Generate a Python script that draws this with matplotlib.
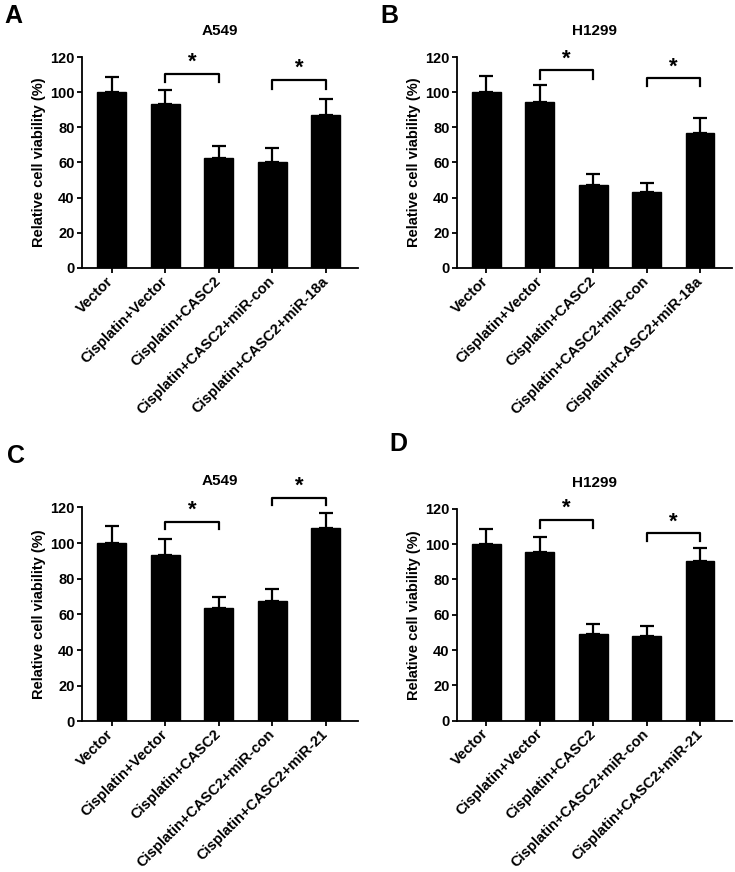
import matplotlib
matplotlib.use('Agg')
import matplotlib.pyplot as plt
import numpy as np

plt.rcParams['font.family'] = ['Liberation Sans', 'DejaVu Sans']
plt.rcParams['font.weight'] = 'bold'

# grupos del eje x
labels_18a = ['Vector', 'Cisplatin+Vector', 'Cisplatin+CASC2',
              'Cisplatin+CASC2+miR-con', 'Cisplatin+CASC2+miR-18a']
labels_21 = ['Vector', 'Cisplatin+Vector', 'Cisplatin+CASC2',
             'Cisplatin+CASC2+miR-con', 'Cisplatin+CASC2+miR-21']

# medias y desviaciones (%)
a_mean = [100, 93.5, 62.5, 60.5, 87]
a_sd = [8.5, 8, 7, 7.5, 9]
b_mean = [100, 94.5, 47, 43.5, 76.5]
b_sd = [9, 9.5, 6.5, 5, 8.8]
c_mean = [100, 93.5, 63.5, 67.5, 108.5]
c_sd = [9.5, 8.5, 6.5, 6.5, 8.5]
d_mean = [100, 95.5, 49, 47.8, 90.5]
d_sd = [8.8, 8.3, 5.7, 5.6, 7.3]

# corchetes de significancia: (barra1, barra2, altura, caida)
a_sig = [(1, 2, 110.5, 4.5), (3, 4, 107, 5)]
b_sig = [(1, 2, 112.5, 5), (3, 4, 108, 4.7)]
c_sig = [(1, 2, 112, 4.3), (3, 4, 125.5, 4.3)]
d_sig = [(1, 2, 113.7, 4.7), (3, 4, 106, 4.3)]

fig = plt.figure(figsize=(7.35, 8.72), dpi=100)

paneles = [
    ('A', 'A549', labels_18a, a_mean, a_sd, a_sig, [0.1116, 0.6927, 0.3755, 0.2419]),
    ('B', 'H1299', labels_18a, b_mean, b_sd, b_sig, [0.6218, 0.6927, 0.3742, 0.2419]),
    ('C', 'A549', labels_21, c_mean, c_sd, c_sig, [0.1116, 0.1726, 0.3755, 0.2456]),
    ('D', 'H1299', labels_21, d_mean, d_sd, d_sig, [0.6218, 0.1735, 0.3742, 0.2431]),
]

for letra, titulo, labels, media, sd, sig, pos in paneles:
    ax = fig.add_axes(pos)
    x = np.arange(len(media))
    ax.bar(x, media, width=0.54, color='black', edgecolor='black',
           yerr=[np.zeros(len(sd)), sd],
           error_kw=dict(ecolor='black', elinewidth=1.6, capsize=5, capthick=1.6))
    ax.set_xlim(-0.55, 4.6)
    ax.set_ylim(0, 120)
    ax.set_yticks(np.arange(0, 121, 20))
    ax.set_xticks(x)
    ax.set_xticklabels(labels, rotation=45, ha='right', va='center',
                       rotation_mode='anchor', fontsize=10.6, fontweight='bold')
    for t in ax.get_yticklabels():
        t.set_fontsize(10.5)
        t.set_fontweight('bold')
    ax.tick_params(direction='out', length=3.8, width=1.3, pad=1.5)
    ax.tick_params(axis='x', pad=4)
    ax.spines['top'].set_visible(False)
    ax.spines['right'].set_visible(False)
    ax.spines['left'].set_linewidth(1.3)
    ax.spines['bottom'].set_linewidth(1.3)
    ax.set_ylabel('Relative cell viability (%)', fontsize=10.5, fontweight='bold', labelpad=3)
    ax.set_title(titulo, fontsize=11, fontweight='bold', pad=16)
    for i, j, y, caida in sig:
        ax.plot([i, i, j, j], [y - caida, y, y, y - caida], color='black',
                lw=1.6, clip_on=False)
        ax.text((i + j) / 2, y + 0.5, '*', ha='center', va='bottom',
                fontsize=16, fontweight='bold')

fig.text(0.006, 0.995, 'A', fontsize=18, fontweight='bold', va='top')
fig.text(0.518, 0.995, 'B', fontsize=18, fontweight='bold', va='top')
fig.text(0.010, 0.491, 'C', fontsize=18, fontweight='bold', va='top')
fig.text(0.530, 0.505, 'D', fontsize=18, fontweight='bold', va='top')

fig.savefig('out.png', dpi=100)
